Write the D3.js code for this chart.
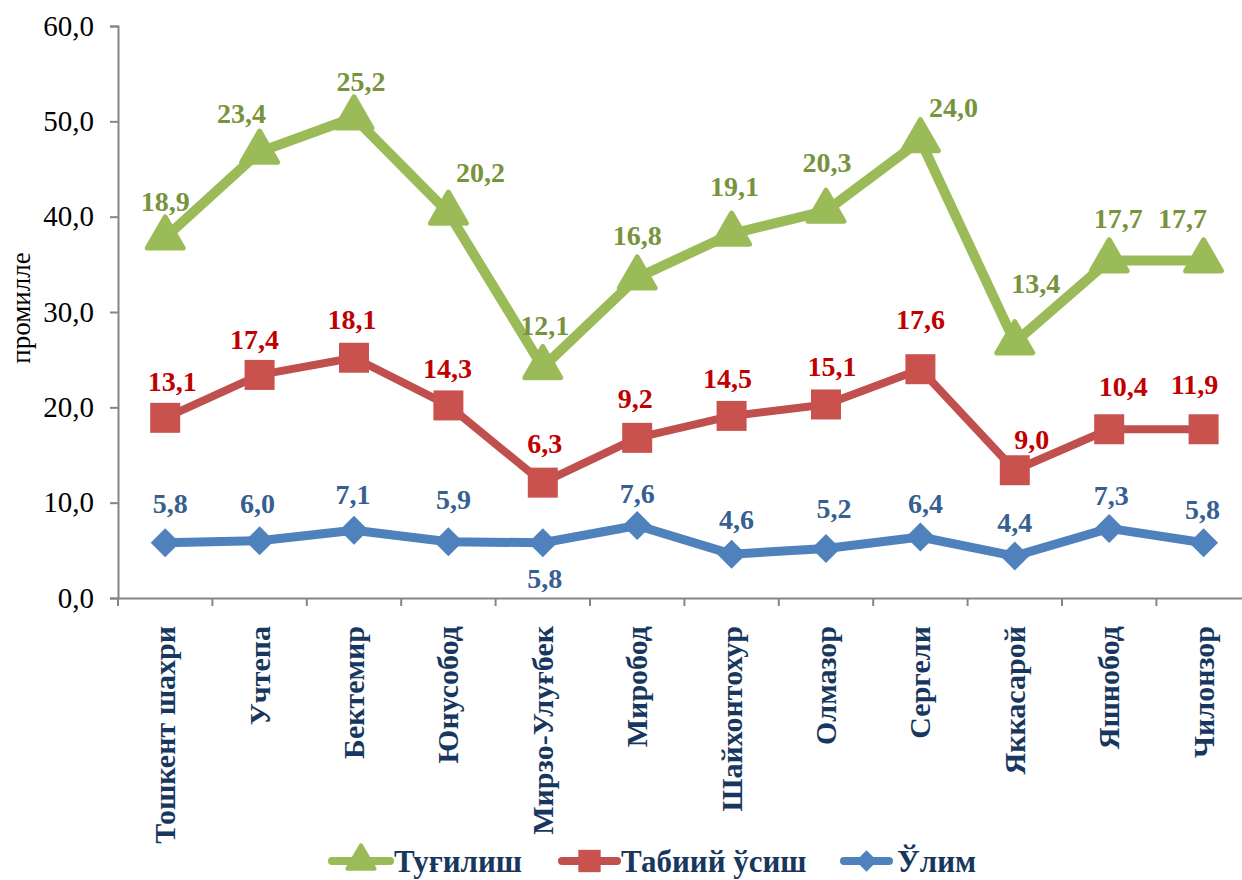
<!DOCTYPE html>
<html>
<head>
<meta charset="utf-8">
<script src="https://cdn.jsdelivr.net/npm/d3@7/dist/d3.min.js"></script>
<style>
  html, body { margin: 0; padding: 0; background: #ffffff; }
  svg { display: block; }
  svg text { font-family: "Liberation Serif", "Times New Roman", serif; }
</style>
</head>
<body>
<svg id="chart" width="1242" height="880"></svg>
<script>
// ---- data ----
const categories = ["Тошкент шахри", "Учтепа", "Бектемир", "Юнусобод", "Мирзо-Улуғбек", "Миробод",
  "Шайхонтохур", "Олмазор", "Сергели", "Яккасарой", "Яшнобод", "Чилонзор"];
const deaths = [5.8, 6.0, 7.1, 5.9, 5.8, 7.6, 4.6, 5.2, 6.4, 4.4, 7.3, 5.8];        // Ўлим
const naturalGrowth = [13.1, 17.4, 18.1, 14.3, 6.3, 9.2, 14.5, 15.1, 17.6, 9.0, 10.4, 11.9]; // Табиий ўсиш
const births = [18.9, 23.4, 25.2, 20.2, 12.1, 16.8, 19.1, 20.3, 24.0, 13.4, 17.7, 17.7];    // Туғилиш
const yTicks = [0, 10, 20, 30, 40, 50, 60];
const seriesNames = { births: "Туғилиш", growth: "Табиий ўсиш", deaths: "Ўлим" };

// label nudges (pixels) relative to default "above" position
const birthsLabelNudge = [[0,0],[-18,-2],[7,0],[32,-4],[2,-5],[0,-6],[3,-11],[1,-12],[33,4],[21,-23],[9,-6],[-21,-6]];
const growthLabelNudge = [[7,0],[-5,1],[-2,-2],[-1,0],[2,-3],[-2,-3],[-4,-1],[6,-1],[0,-13],[17,6],[14,-6],[-9,-8]];
const deathsLabelNudge = [[5,-3],[-2,-1],[-1,1],[5,-6],[2,72],[0,4],[5,2],[8,-3],[5,3],[0,3],[2,4],[-1,3]];

// ---- layout ----
const svg = d3.select("#chart");
const plotLeft = 118, plotBottom = 598, plotTop = 26, band = 94.4;
const x = d3.scaleBand().domain(categories).range([plotLeft, plotLeft + band * categories.length]).padding(0);
const y = d3.scaleLinear().domain([0, 60]).range([plotBottom, plotTop]);

const rows = categories.map((c, i) => ({ cat: c, deaths: deaths[i], growth: naturalGrowth[i], births: births[i] }));
const stacked = d3.stack().keys(["deaths", "growth", "births"])(rows);

const colors = {
  births: { line: "#9BBB59", marker: "#9BBB59", label: "#77933C" },
  growth: { line: "#C0504D", marker: "#C9524F", label: "#C00000" },
  deaths: { line: "#4F81BD", marker: "#4F81BD", label: "#376092" }
};
const fontFamily = "'Liberation Serif', 'Times New Roman', serif";

// ---- axes ----
const yAxis = d3.axisLeft(y).tickValues(yTicks).tickSize(8).tickFormat(d => d3.format(".1f")(d).replace(".", ","));
const gy = svg.append("g").attr("transform", `translate(${plotLeft},0)`).call(yAxis);
gy.attr("font-family", fontFamily);
gy.select(".domain").attr("stroke", "#868686").attr("stroke-width", 2);
gy.selectAll(".tick line").attr("stroke", "#868686").attr("stroke-width", 2);
gy.selectAll(".tick text").attr("x", -24).attr("font-family", fontFamily).attr("font-size", 29).attr("fill", "#000");

const xAxis = d3.axisBottom(x).tickSize(0).tickFormat("");
const gx = svg.append("g").attr("transform", `translate(0,${plotBottom})`).call(xAxis);
gx.select(".domain").attr("stroke", "#868686").attr("stroke-width", 2);
gx.selectAll(".bt").data(d3.range(categories.length + 1)).enter().append("line")
  .attr("x1", i => plotLeft + i * x.step()).attr("x2", i => plotLeft + i * x.step())
  .attr("y1", 0).attr("y2", 8).attr("stroke", "#868686").attr("stroke-width", 2);

// category labels (rotated)
svg.append("g").selectAll("text").data(categories).enter().append("text")
  .attr("transform", d => `translate(${x(d) + x.bandwidth() / 2 + 10},626) rotate(-90)`)
  .attr("text-anchor", "end")
  .attr("font-family", fontFamily).attr("font-weight", "bold").attr("font-size", 30)
  .attr("fill", "#17375E").text(d => d);

// y title
svg.append("text").attr("transform", "translate(30,308) rotate(-90)")
  .attr("text-anchor", "middle").attr("font-family", fontFamily).attr("font-size", 27)
  .attr("fill", "#000").text("промилле");

// ---- lines ----
const cx = d => x(d.data.cat) + x.bandwidth() / 2;
const order = [
  { key: "deaths", layer: stacked[0], width: 9, values: deaths, nudge: deathsLabelNudge },
  { key: "growth", layer: stacked[1], width: 8, values: naturalGrowth, nudge: growthLabelNudge },
  { key: "births", layer: stacked[2], width: 10, values: births, nudge: birthsLabelNudge }
];

const symbols = {
  births: d3.symbol().type(d3.symbolTriangle).size(560),
  growth: d3.symbol().type(d3.symbolSquare).size(900),
  deaths: d3.symbol().type(d3.symbolSquare).size(420)
};

order.forEach(s => {
  const line = d3.line().x(cx).y(d => y(d[1]));
  svg.append("path").datum(s.layer)
    .attr("fill", "none").attr("stroke", colors[s.key].line)
    .attr("stroke-width", s.width).attr("stroke-linejoin", "round").attr("d", line);
});

order.forEach(s => {
  const g = svg.append("g");
  g.selectAll("path").data(s.layer).enter().append("path")
    .attr("transform", d => `translate(${cx(d)},${y(d[1])})` + (s.key === "deaths" ? " rotate(45)" : ""))
    .attr("d", symbols[s.key]())
    .attr("fill", colors[s.key].marker)
    .attr("stroke", colors[s.key].marker)
    .attr("stroke-width", s.key === "births" ? 5 : 0)
    .attr("stroke-linejoin", "round");
});

order.forEach(s => {
  svg.append("g").selectAll("text").data(s.layer).enter().append("text")
    .attr("x", (d, i) => cx(d) + s.nudge[i][0])
    .attr("y", (d, i) => y(d[1]) - 37 + 10 + s.nudge[i][1])
    .attr("text-anchor", "middle")
    .attr("font-family", fontFamily).attr("font-weight", "bold").attr("font-size", 28)
    .attr("fill", colors[s.key].label)
    .text((d, i) => d3.format(".1f")(s.values[i]).replace(".", ","));
});

// ---- legend ----
const legendItems = [
  { key: "births", x0: 332, x1: 390, tx: 394 },
  { key: "growth", x0: 562, x1: 617, tx: 621 },
  { key: "deaths", x0: 844, x1: 889, tx: 897 }
];
const legendSymbols = {
  births: d3.symbol().type(d3.symbolTriangle).size(320),
  growth: d3.symbol().type(d3.symbolSquare).size(500),
  deaths: d3.symbol().type(d3.symbolSquare).size(230)
};
const ly = 861;
const lg = svg.append("g");
legendItems.forEach(it => {
  lg.append("line").attr("x1", it.x0).attr("x2", it.x1).attr("y1", ly).attr("y2", ly)
    .attr("stroke", colors[it.key].line).attr("stroke-width", 8).attr("stroke-linecap", "round");
  lg.append("path").attr("transform", `translate(${(it.x0 + it.x1) / 2},${ly})` + (it.key === "deaths" ? " rotate(45)" : ""))
    .attr("d", legendSymbols[it.key]()).attr("fill", colors[it.key].marker)
    .attr("stroke", colors[it.key].marker).attr("stroke-width", it.key === "births" ? 4 : 0)
    .attr("stroke-linejoin", "round");
  lg.append("text").attr("x", it.tx).attr("y", ly + 11)
    .attr("font-family", fontFamily).attr("font-weight", "bold").attr("font-size", 31)
    .attr("fill", "#17375E").text(seriesNames[it.key]);
});
</script>
</body>
</html>
